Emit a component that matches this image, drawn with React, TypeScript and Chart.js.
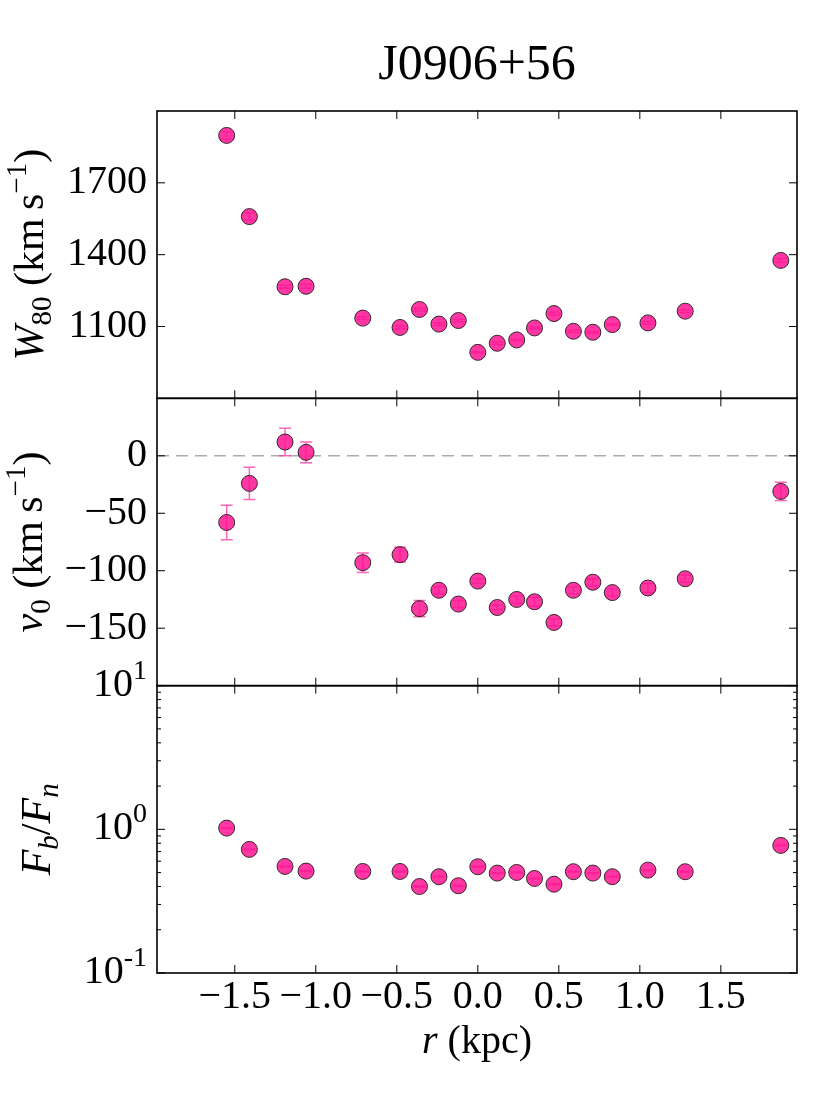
import React, { useEffect, useRef } from 'react';
import { Chart, registerables } from 'chart.js';

Chart.register(...registerables);

// projected radius of each spectrum (kpc)
const radius = [-1.55, -1.41, -1.19, -1.06, -0.71, -0.48, -0.36, -0.24, -0.12, 0.0, 0.12, 0.24, 0.35, 0.47, 0.59, 0.71, 0.83, 1.05, 1.28, 1.87];

// W80 (km/s)
const w80 = [1898, 1559, 1266, 1268, 1135, 1096, 1171, 1110, 1125, 992, 1030, 1044, 1094, 1154, 1080, 1076, 1108, 1115, 1164, 1376];
const w80Err = [15, 15, 6, 8, 6, 6, 6, 6, 5, 3, 5, 4, 5, 5, 5, 4, 4, 6, 6, 8];

// v0 (km/s)
const v0 = [-58, -24, 12, 3, -93, -86, -133, -117, -129, -109, -132, -125, -127, -145, -117, -110, -119, -115, -107, -31];
const v0Err = [15, 14, 12, 9, 8.5, 6.5, 7, 3, 3, 2, 2, 3, 4, 3, 3, 3, 3, 4, 3, 8];

// Fb/Fn
const fluxRatio = [1.02, 0.725, 0.552, 0.512, 0.509, 0.509, 0.4, 0.468, 0.405, 0.549, 0.496, 0.501, 0.455, 0.415, 0.507, 0.496, 0.468, 0.52, 0.507, 0.773];
const fluxRatioErr = [0.006, 0.005, 0.004, 0.004, 0.004, 0.004, 0.003, 0.003, 0.003, 0.004, 0.003, 0.003, 0.003, 0.003, 0.003, 0.003, 0.003, 0.004, 0.004, 0.005];

const xTicks = [-1.5, -1.0, -0.5, 0.0, 0.5, 1.0, 1.5];
const w80Ticks = [1100, 1400, 1700];
const v0Ticks = [-150, -100, -50, 0];
const ratioTicks = [0.1, 1, 10];
const ratioTickExp = ['-1', '0', '1'];
const ratioMinorTicks = [0.2, 0.3, 0.4, 0.5, 0.6, 0.7, 0.8, 0.9, 2, 3, 4, 5, 6, 7, 8, 9];

const SERIF = '"Liberation Serif", "Times New Roman", serif';
const PINK = 'rgba(255, 20, 147, 0.85)';
const PINK_ERR = 'rgba(255, 20, 147, 0.65)';
const EDGE = 'rgba(30, 30, 30, 0.9)';

type Run = { text: string; size: number; italic?: boolean; shift?: number };

function drawRuns(ctx: CanvasRenderingContext2D, runs: Run[], x: number, y: number, angle: number) {
  const font = (r: Run) => `${r.italic ? 'italic ' : ''}${r.size}px ${SERIF}`;
  ctx.save();
  ctx.translate(x, y);
  ctx.rotate(angle);
  ctx.fillStyle = '#000';
  ctx.textAlign = 'left';
  ctx.textBaseline = 'alphabetic';
  const widths = runs.map(r => {
    ctx.font = font(r);
    return ctx.measureText(r.text).width;
  });
  let cx = -widths.reduce((a, b) => a + b, 0) / 2;
  runs.forEach((r, i) => {
    ctx.font = font(r);
    ctx.fillText(r.text, cx, r.shift || 0);
    cx += widths[i];
  });
  ctx.restore();
}

const fmtMinus = (v: number, digits: number) => (v < 0 ? '\u2212' : '') + Math.abs(v).toFixed(digits);

const panelPlugin = {
  id: 'panels',
  beforeDatasetsDraw(chart: any) {
    const { ctx, chartArea, scales } = chart;
    const x = scales.x;
    // zero line in the velocity panel
    const y0 = scales.yV.getPixelForValue(0);
    ctx.save();
    ctx.strokeStyle = 'rgba(128,128,128,0.65)';
    ctx.lineWidth = 1.5;
    ctx.setLineDash([12, 7]);
    ctx.beginPath();
    ctx.moveTo(chartArea.left, y0);
    ctx.lineTo(chartArea.right, y0);
    ctx.stroke();
    ctx.restore();

    // error bars, drawn under the markers
    const sets: [string, number[], number[]][] = [
      ['yW', w80, w80Err],
      ['yV', v0, v0Err],
      ['yF', fluxRatio, fluxRatioErr],
    ];
    ctx.save();
    ctx.strokeStyle = PINK_ERR;
    ctx.lineWidth = 1.5;
    for (const [id, vals, errs] of sets) {
      const ys = scales[id];
      vals.forEach((v, i) => {
        const px = x.getPixelForValue(radius[i]);
        const top = ys.getPixelForValue(v + errs[i]);
        const bot = ys.getPixelForValue(v - errs[i]);
        ctx.beginPath();
        ctx.moveTo(px, top);
        ctx.lineTo(px, bot);
        ctx.moveTo(px - 6, top);
        ctx.lineTo(px + 6, top);
        ctx.moveTo(px - 6, bot);
        ctx.lineTo(px + 6, bot);
        ctx.stroke();
      });
    }
    ctx.restore();
  },
  afterDraw(chart: any) {
    const { ctx, chartArea, scales } = chart;
    const { left, right } = chartArea;
    const x = scales.x;
    const panels = [
      { s: scales.yW, ticks: w80Ticks, minor: [] as number[] },
      { s: scales.yV, ticks: v0Ticks, minor: [] as number[] },
      { s: scales.yF, ticks: ratioTicks, minor: ratioMinorTicks },
    ];
    ctx.save();
    ctx.strokeStyle = '#000';
    for (const p of panels) {
      const { top, bottom } = p.s;
      ctx.lineWidth = 1;
      ctx.beginPath();
      for (const t of xTicks) {
        const px = x.getPixelForValue(t);
        ctx.moveTo(px, bottom);
        ctx.lineTo(px, bottom - 8);
        ctx.moveTo(px, top);
        ctx.lineTo(px, top + 8);
      }
      for (const t of p.ticks) {
        const py = p.s.getPixelForValue(t);
        ctx.moveTo(left, py);
        ctx.lineTo(left + 8, py);
        ctx.moveTo(right, py);
        ctx.lineTo(right - 8, py);
      }
      for (const t of p.minor) {
        const py = p.s.getPixelForValue(t);
        ctx.moveTo(left, py);
        ctx.lineTo(left + 4, py);
        ctx.moveTo(right, py);
        ctx.lineTo(right - 4, py);
      }
      ctx.stroke();
      ctx.lineWidth = 1.6;
      ctx.strokeRect(left, top, right - left, bottom - top);
    }
    ctx.restore();

    // log tick labels with raised exponents
    ctx.save();
    ctx.fillStyle = '#000';
    ctx.textBaseline = 'alphabetic';
    ctx.textAlign = 'right';
    ratioTicks.forEach((t, i) => {
      const py = scales.yF.getPixelForValue(t);
      ctx.font = `28px ${SERIF}`;
      const ew = ctx.measureText(ratioTickExp[i]).width;
      ctx.fillText(ratioTickExp[i], 147, py - 7);
      ctx.font = `40px ${SERIF}`;
      ctx.fillText('10', 147 - ew, py + 10);
    });
    ctx.restore();

    // title and axis labels
    ctx.save();
    ctx.fillStyle = '#000';
    ctx.textAlign = 'center';
    ctx.textBaseline = 'alphabetic';
    ctx.font = `50px ${SERIF}`;
    ctx.fillText('J0906+56', (left + right) / 2, 79);
    ctx.restore();

    const up = -Math.PI / 2;
    const yW = scales.yW, yV = scales.yV, yF = scales.yF;
    drawRuns(ctx, [
      { text: 'W', size: 42, italic: true },
      { text: '80', size: 29, shift: 8 },
      { text: ' (km\u2009s', size: 42 },
      { text: '\u22121', size: 29, shift: -17 },
      { text: ')', size: 42 },
    ], 43, (yW.top + yW.bottom) / 2, up);
    drawRuns(ctx, [
      { text: 'v', size: 42, italic: true },
      { text: '0', size: 29, shift: 8 },
      { text: ' (km\u2009s', size: 42 },
      { text: '\u22121', size: 29, shift: -17 },
      { text: ')', size: 42 },
    ], 42, (yV.top + yV.bottom) / 2, up);
    drawRuns(ctx, [
      { text: 'F', size: 42, italic: true },
      { text: 'b', size: 29, italic: true, shift: 8 },
      { text: '/', size: 42 },
      { text: 'F', size: 42, italic: true },
      { text: 'n', size: 29, italic: true, shift: 8 },
    ], 50, (yF.top + yF.bottom) / 2, up);
    drawRuns(ctx, [
      { text: 'r', size: 40, italic: true },
      { text: ' (kpc)', size: 40 },
    ], (left + right) / 2, 1053, 0);
  },
};

const toPoints = (vals: number[]) => vals.map((v, i) => ({ x: radius[i], y: v }));

const App: React.FC = () => {
  const canvasRef = useRef<HTMLCanvasElement | null>(null);
  const chartRef = useRef<Chart | null>(null);

  useEffect(() => {
    if (!canvasRef.current) return;
    if (chartRef.current) chartRef.current.destroy();

    const marker = {
      pointRadius: 8,
      pointHoverRadius: 8,
      pointBackgroundColor: PINK,
      pointBorderColor: EDGE,
      pointBorderWidth: 1,
      showLine: false,
    };
    const hiddenGrid = { display: false, drawTicks: false };
    const tickFont = { family: SERIF, size: 40, lineHeight: 1.2 };

    chartRef.current = new Chart(canvasRef.current, {
      type: 'scatter',
      data: {
        datasets: [
          { label: 'W80', data: toPoints(w80), yAxisID: 'yW', ...marker },
          { label: 'v0', data: toPoints(v0), yAxisID: 'yV', ...marker },
          { label: 'Fb/Fn', data: toPoints(fluxRatio), yAxisID: 'yF', ...marker },
        ],
      },
      options: {
        animation: false,
        responsive: false,
        events: [],
        layout: { padding: { top: 111, right: 33, left: 0, bottom: 0 }, autoPadding: false },
        plugins: { legend: { display: false }, tooltip: { enabled: false } },
        scales: {
          x: {
            type: 'linear',
            min: -1.98,
            max: 1.97,
            grid: hiddenGrid,
            border: { display: false },
            afterBuildTicks: (s: any) => { s.ticks = xTicks.map(v => ({ value: v })); },
            afterFit: (s: any) => { s.height = 134; },
            ticks: {
              font: tickFont,
              color: '#000',
              padding: 0,
              maxRotation: 0,
              autoSkip: false,
              callback: (v: any) => fmtMinus(Number(v), 1),
            },
          },
          yF: {
            type: 'logarithmic',
            position: 'left',
            stack: 'panels',
            stackWeight: 1,
            min: 0.1,
            max: 10,
            grid: hiddenGrid,
            border: { display: false },
            afterBuildTicks: (s: any) => { s.ticks = ratioTicks.map(v => ({ value: v })); },
            afterFit: (s: any) => { s.width = 157; },
            ticks: { display: false },
          },
          yV: {
            type: 'linear',
            position: 'left',
            stack: 'panels',
            stackWeight: 1,
            min: -200,
            max: 50,
            grid: hiddenGrid,
            border: { display: false },
            afterBuildTicks: (s: any) => { s.ticks = v0Ticks.map(v => ({ value: v })); },
            afterFit: (s: any) => { s.width = 157; },
            ticks: { font: tickFont, color: '#000', padding: 10, callback: (v: any) => fmtMinus(Number(v), 0) },
          },
          yW: {
            type: 'linear',
            position: 'left',
            stack: 'panels',
            stackWeight: 1,
            min: 800,
            max: 2000,
            grid: hiddenGrid,
            border: { display: false },
            afterBuildTicks: (s: any) => { s.ticks = w80Ticks.map(v => ({ value: v })); },
            afterFit: (s: any) => { s.width = 157; },
            ticks: { font: tickFont, color: '#000', padding: 10, callback: (v: any) => String(v) },
          },
        },
      } as any,
      plugins: [panelPlugin],
    });

    return () => {
      if (chartRef.current) {
        chartRef.current.destroy();
        chartRef.current = null;
      }
    };
  }, []);

  return (
    <div style={{ position: 'absolute', left: 0, top: 0, width: 830, height: 1107, background: '#fff' }}>
      <canvas ref={canvasRef} width={830} height={1107} style={{ width: 830, height: 1107 }} />
    </div>
  );
};

export default App;
